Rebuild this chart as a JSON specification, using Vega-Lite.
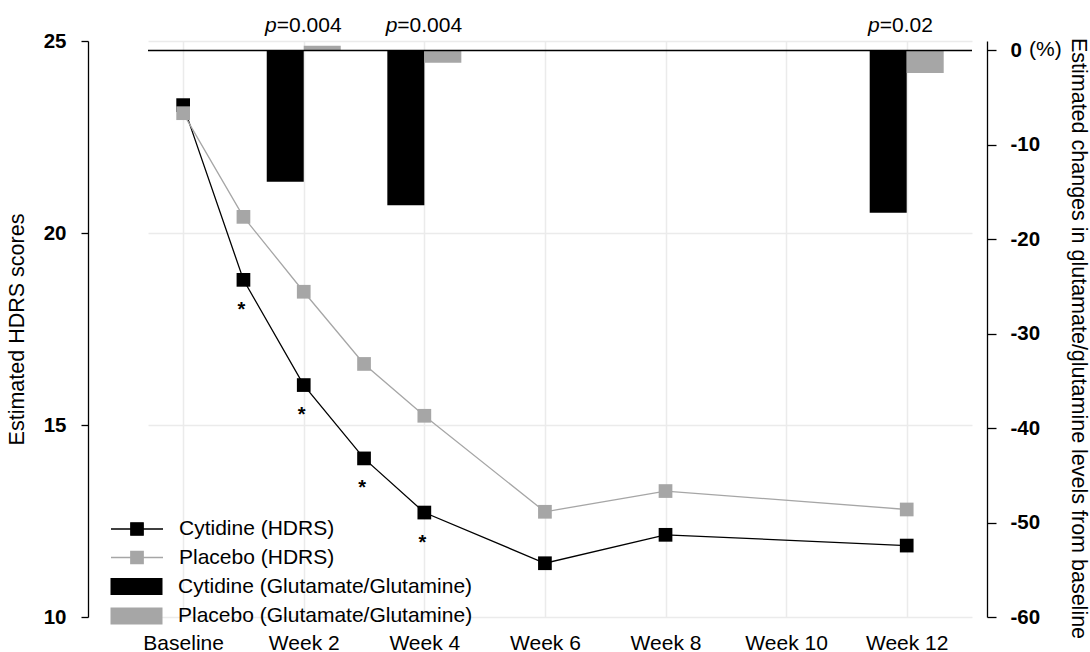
{
  "$schema": "https://vega.github.io/schema/vega-lite/v6.json",
  "width": 824,
  "height": 576,
  "autosize": {"type": "none"},
  "padding": {"left": 148, "top": 41, "right": 118, "bottom": 35},
  "config": {
    "font": "Liberation Sans",
    "view": {"stroke": null},
    "axis": {
      "labelFont": "Liberation Sans",
      "titleFont": "Liberation Sans",
      "labelColor": "black",
      "titleColor": "black",
      "titleFontWeight": "normal",
      "gridColor": "#ebebeb",
      "gridWidth": 1.5,
      "domainColor": "black",
      "tickColor": "black"
    },
    "legend": {
      "labelFont": "Liberation Sans",
      "labelColor": "black",
      "labelFontSize": 21,
      "labelLimit": 0,
      "padding": 0,
      "rowPadding": 7.5
    }
  },
  "datasets": {
    "hdrs": [
      {"series": "Cytidine (HDRS)", "week": 0, "score": 23.33, "sig": ""},
      {"series": "Cytidine (HDRS)", "week": 1, "score": 18.78, "sig": "*"},
      {"series": "Cytidine (HDRS)", "week": 2, "score": 16.04, "sig": "*"},
      {"series": "Cytidine (HDRS)", "week": 3, "score": 14.13, "sig": "*"},
      {"series": "Cytidine (HDRS)", "week": 4, "score": 12.72, "sig": "*"},
      {"series": "Cytidine (HDRS)", "week": 6, "score": 11.40, "sig": ""},
      {"series": "Cytidine (HDRS)", "week": 8, "score": 12.14, "sig": ""},
      {"series": "Cytidine (HDRS)", "week": 12, "score": 11.86, "sig": ""},
      {"series": "Placebo (HDRS)", "week": 0, "score": 23.12, "sig": ""},
      {"series": "Placebo (HDRS)", "week": 1, "score": 20.42, "sig": ""},
      {"series": "Placebo (HDRS)", "week": 2, "score": 18.47, "sig": ""},
      {"series": "Placebo (HDRS)", "week": 3, "score": 16.59, "sig": ""},
      {"series": "Placebo (HDRS)", "week": 4, "score": 15.24, "sig": ""},
      {"series": "Placebo (HDRS)", "week": 6, "score": 12.74, "sig": ""},
      {"series": "Placebo (HDRS)", "week": 8, "score": 13.28, "sig": ""},
      {"series": "Placebo (HDRS)", "week": 12, "score": 12.80, "sig": ""}
    ],
    "glx": [
      {"group": "Cytidine (Glutamate/Glutamine)", "week": 2, "change": -13.9},
      {"group": "Cytidine (Glutamate/Glutamine)", "week": 4, "change": -16.4},
      {"group": "Cytidine (Glutamate/Glutamine)", "week": 12, "change": -17.2},
      {"group": "Placebo (Glutamate/Glutamine)", "week": 2, "change": 0.5},
      {"group": "Placebo (Glutamate/Glutamine)", "week": 4, "change": -1.3},
      {"group": "Placebo (Glutamate/Glutamine)", "week": 12, "change": -2.4}
    ],
    "pvals": [
      {"week": 2, "pv": "=0.004"},
      {"week": 4, "pv": "=0.004"},
      {"week": 12, "pv": "=0.02"}
    ]
  },
  "layer": [
    {
      "layer": [
        {
          "data": {"name": "hdrs"},
          "mark": {"type": "line", "strokeWidth": 1.3, "point": {"shape": "square", "size": 188, "filled": true, "opacity": 1}},
          "encoding": {
            "x": {
              "field": "week", "type": "quantitative",
              "scale": {"domain": [-0.5, 13], "nice": false, "zero": false},
              "axis": {
                "values": [0, 2, 4, 6, 8, 10, 12],
                "labelExpr": "datum.value == 0 ? 'Baseline' : 'Week ' + datum.value",
                "domain": false, "ticks": false, "labelFontSize": 21, "labelPadding": 15,
                "title": null, "grid": true
              }
            },
            "y": {
              "field": "score", "type": "quantitative",
              "scale": {"domain": [10, 25], "nice": false, "zero": false},
              "axis": {
                "orient": "left", "values": [10, 15, 20, 25], "offset": 60, "tickSize": 7,
                "labelPadding": 15, "labelFontWeight": "bold", "labelFontSize": 20.5,
                "title": "Estimated HDRS scores", "titleFontSize": 21.5, "titlePadding": 15,
                "grid": true, "domainWidth": 1.3, "tickWidth": 1.3
              }
            },
            "color": {
              "field": "series", "type": "nominal",
              "scale": {"domain": ["Cytidine (HDRS)", "Placebo (HDRS)"], "range": ["#000000", "#a6a6a6"]},
              "legend": {
                "orient": "none", "legendX": -22, "legendY": 477, "title": null,
                "symbolType": "M-2.6,0H2.6M-0.62,-0.62H0.62V0.62H-0.62Z",
                "symbolSize": 400, "symbolStrokeWidth": 1.3, "labelOffset": 31,
                "encode": {"symbols": {"update": {"fill": {"scale": "color", "field": "value"}, "stroke": {"scale": "color", "field": "value"}}}}
              }
            }
          }
        },
        {
          "data": {"name": "hdrs"},
          "transform": [{"filter": "datum.sig == '*'"}],
          "mark": {"type": "text", "dx": -2, "dy": 36, "baseline": "alphabetic", "fontSize": 20, "fontWeight": "bold", "color": "black"},
          "encoding": {
            "x": {"field": "week", "type": "quantitative"},
            "y": {"field": "score", "type": "quantitative"},
            "text": {"field": "sig"}
          }
        }
      ]
    },
    {
      "layer": [
        {
          "data": {"name": "glx"},
          "transform": [{"filter": "datum.group == 'Cytidine (Glutamate/Glutamine)'"}],
          "mark": {"type": "bar", "width": 37, "xOffset": -18.5, "orient": "vertical"},
          "encoding": {
            "x": {"field": "week", "type": "quantitative"},
            "y": {
              "field": "change", "type": "quantitative",
              "scale": {"domain": [-60, 1], "nice": false, "zero": false},
              "axis": {
                "orient": "right", "values": [0, -10, -20, -30, -40, -50, -60],
                "labelExpr": "'' + datum.value", "offset": 15, "tickSize": 9,
                "labelPadding": 14, "labelFontWeight": "bold", "labelFontSize": 20.5,
                "title": "Estimated changes in glutamate/glutamine levels from baseline",
                "titleFontSize": 21.5, "titleAngle": 90, "titlePadding": 27, "titleY": 297,
                "grid": false, "domainWidth": 1.3, "tickWidth": 1.3
              }
            },
            "y2": {"datum": 0},
            "fill": {
              "field": "group", "type": "nominal",
              "scale": {"domain": ["Cytidine (Glutamate/Glutamine)", "Placebo (Glutamate/Glutamine)"], "range": ["#000000", "#a6a6a6"]},
              "legend": {
                "orient": "none", "legendX": -22, "legendY": 535, "title": null,
                "symbolType": "M-2.6,-0.85H2.6V0.85H-2.6Z", "symbolSize": 400,
                "symbolStrokeWidth": 0, "labelOffset": 31
              }
            }
          }
        },
        {
          "data": {"name": "glx"},
          "transform": [{"filter": "datum.group == 'Placebo (Glutamate/Glutamine)'"}],
          "mark": {"type": "bar", "width": 37, "xOffset": 18.5, "orient": "vertical"},
          "encoding": {
            "x": {"field": "week", "type": "quantitative"},
            "y": {"field": "change", "type": "quantitative"},
            "y2": {"datum": 0},
            "fill": {
              "field": "group", "type": "nominal",
              "scale": {"domain": ["Cytidine (Glutamate/Glutamine)", "Placebo (Glutamate/Glutamine)"], "range": ["#000000", "#a6a6a6"]},
              "legend": {
                "orient": "none", "legendX": -22, "legendY": 535, "title": null,
                "symbolType": "M-2.6,-0.85H2.6V0.85H-2.6Z", "symbolSize": 400,
                "symbolStrokeWidth": 0, "labelOffset": 31
              }
            }
          }
        },
        {
          "data": {"values": [{}]},
          "mark": {"type": "rule", "color": "black", "strokeWidth": 1.5},
          "encoding": {"y": {"datum": 0, "type": "quantitative"}}
        },
        {
          "data": {"name": "pvals"},
          "mark": {"type": "text", "align": "right", "dx": -27, "baseline": "alphabetic", "fontSize": 21, "fontStyle": "italic", "color": "black"},
          "encoding": {
            "x": {"field": "week", "type": "quantitative"},
            "y": {"datum": 2.0, "type": "quantitative"},
            "text": {"value": "p"}
          }
        },
        {
          "data": {"name": "pvals"},
          "mark": {"type": "text", "align": "left", "dx": -27, "baseline": "alphabetic", "fontSize": 21, "color": "black"},
          "encoding": {
            "x": {"field": "week", "type": "quantitative"},
            "y": {"datum": 2.0, "type": "quantitative"},
            "text": {"field": "pv"}
          }
        },
        {
          "data": {"values": [{"unit": "(%)"}]},
          "mark": {"type": "text", "align": "left", "baseline": "middle", "fontSize": 21, "color": "black"},
          "encoding": {
            "x": {"datum": 14.03, "type": "quantitative"},
            "y": {"datum": 0, "type": "quantitative"},
            "text": {"field": "unit"}
          }
        }
      ]
    }
  ],
  "resolve": {"scale": {"y": "independent"}}
}
